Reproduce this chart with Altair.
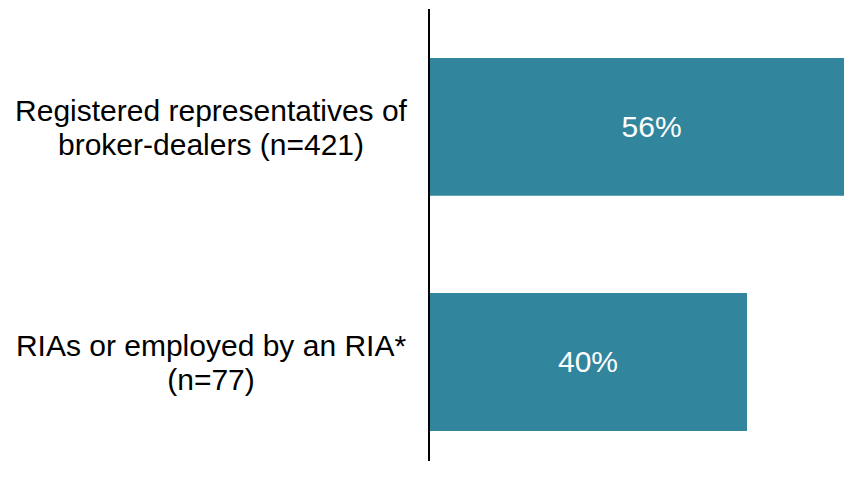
import altair as alt
import pandas as pd

categories = ["Registered representatives of\nbroker-dealers (n=421)",
              "RIAs or employed by an RIA*\n(n=77)"]
values = [56, 40]
value_labels = ["56%", "40%"]

df = pd.DataFrame({"cat": categories, "val": values, "lab": value_labels})
df["half"] = df["val"] / 2

FONT = "Liberation Sans"
BAR = "#31859c"

y_enc = alt.Y("cat:N", sort=categories, axis=None,
              scale=alt.Scale(paddingInner=0.413, paddingOuter=0.168, align=0.619))
x_scale = alt.Scale(domain=[0, 52.2], nice=False, zero=True)

bars = alt.Chart(df).mark_bar(color=BAR, clip=True).encode(
    x=alt.X("val:Q", scale=x_scale, axis=None),
    y=y_enc,
)

vals = alt.Chart(df).mark_text(color="white", font=FONT, fontSize=30,
                               align="center", baseline="middle", dy=1).encode(
    x=alt.X("half:Q", scale=x_scale),
    y=y_enc,
    text="lab:N",
)

cats = alt.Chart(df).mark_text(color="black", font=FONT, fontSize=30, lineBreak="\n",
                               align="center", baseline="middle", lineHeight=34,
                               dy=-15).encode(
    x=alt.value(-218),
    y=y_enc,
    text="cat:N",
)

axis_line = alt.Chart(df).mark_rule(color="black", strokeWidth=2).encode(
    x=alt.value(0), y=alt.value(0), y2=alt.value(470)
)

chart = alt.layer(bars, vals, cats, axis_line).properties(
    width=415, height=452,
    autosize=alt.AutoSizeParams(type="none"),
    padding={"left": 421, "top": 1, "right": 0, "bottom": 0},
).configure_view(stroke=None)

chart.save("out.html", embed_options={"renderer": "svg", "actions": False})
